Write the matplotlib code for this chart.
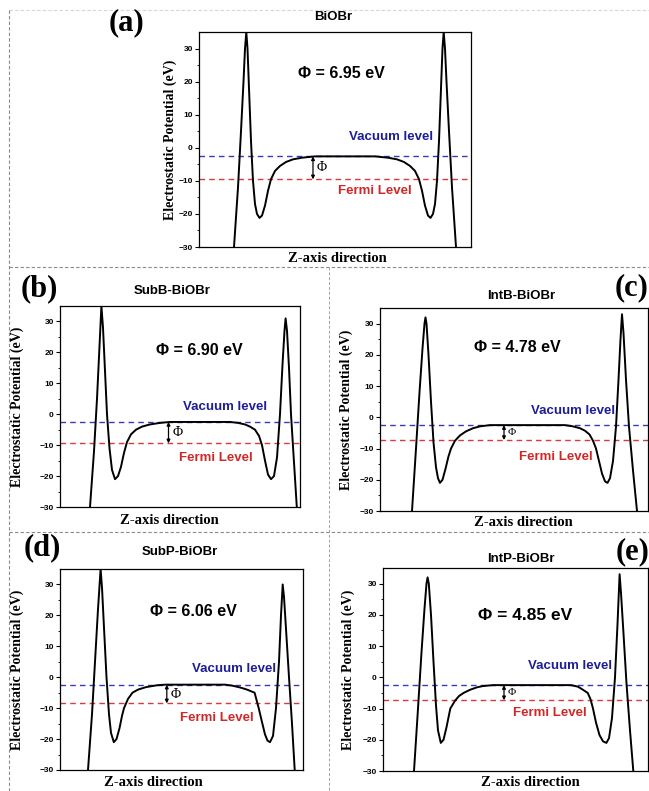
import numpy as np
import matplotlib.pyplot as plt
from matplotlib.lines import Line2D

W, H = 649, 791

panel_tags = ['(a)', '(b)', '(c)', '(d)', '(e)']
titles = ['BiOBr', 'SubB-BiOBr', 'IntB-BiOBr', 'SubP-BiOBr', 'IntP-BiOBr']
work_function = ['6.95', '6.90', '4.78', '6.06', '4.85']
vacuum_level = [-2.6, -2.5, -2.5, -2.4, -2.5]
fermi_level = [-9.55, -9.4, -7.28, -8.46, -7.35]

# potential profiles (z in arbitrary units along the slab)
z_a = [44, 48, 51, 53.5, 55, 56.3, 57.5, 59, 61, 63, 65, 67, 69.5, 72, 75, 78, 81, 85, 90, 96,
       103, 112, 125, 185, 198, 207, 214, 220, 225, 229, 232, 235, 238, 240.5, 243, 245, 247,
       249, 251, 252.5, 253.7, 255, 256.5, 259, 262, 266]
v_a = [-30, -12, 5, 20, 30, 35, 30, 18, 2, -10, -17, -20, -21.2, -20.5, -17.5, -13, -9.5, -7,
       -5.5, -4.3, -3.5, -3, -2.6, -2.6, -3, -3.5, -4.3, -5.5, -7, -9.5, -13, -17.5, -20.5,
       -21.2, -20, -17, -10, 2, 18, 30, 35, 30, 20, 5, -12, -30]

z_b = [30, 34, 37, 39.5, 41.4, 43, 45, 47, 49.5, 52, 55, 58, 61, 64, 67, 71, 76, 82, 90, 100,
       110, 170, 178, 185, 190, 195, 199, 202, 205, 208, 211, 214, 217, 220, 222.5, 224.5,
       225.6, 227, 229, 231, 233.5, 236.8]
v_b = [-30, -12, 5, 22, 35, 28, 14, 0, -11, -18, -21, -20, -17, -12.5, -9, -6.5, -5, -4, -3.3,
       -2.8, -2.5, -2.5, -2.8, -3.3, -4, -5, -7, -10, -15, -19.5, -21, -20, -14, 0, 16, 27,
       31, 27, 15, 0, -13, -30]

z_c = [32, 36, 39.5, 42.5, 44.5, 45.5, 46.5, 48.5, 51, 53.5, 56, 58, 60, 62.5, 65.5, 68.5, 71,
       75, 80, 86, 93, 100, 110, 185, 193, 200, 205, 209.5, 213, 216, 219, 222, 225, 227.5,
       230, 233, 236, 238.5, 240.5, 242, 243.5, 246, 249, 253, 257]
v_c = [-30, -10, 8, 22, 30, 32, 30, 20, 5, -8, -16, -19.5, -21, -20, -16.5, -12.5, -10, -7.5,
       -5.8, -4.5, -3.5, -2.9, -2.5, -2.5, -2.9, -3.5, -4.3, -5.5, -7.5, -10, -14, -18, -20.5,
       -21, -19.5, -14, -3, 12, 25, 33, 27, 12, -3, -17, -30]

z_d = [28, 32, 35, 38, 40.6, 42, 44, 46.5, 49, 51, 53.8, 56.5, 59.5, 62, 64, 68, 72.5, 78, 86,
       97, 105, 165, 172, 180, 187, 194.6, 198.7, 202, 205, 207.5, 210, 213, 216, 219, 221,
       222.7, 224, 226.5, 229, 232, 234.7]
v_d = [-30, -12, 5, 22, 35, 29, 16, 0, -12, -18, -21, -20, -16.5, -12.5, -10, -7, -5, -4, -3.2,
       -2.6, -2.4, -2.4, -2.7, -3.3, -4, -5, -10, -14.5, -18.5, -20.5, -21, -19, -10, 5, 20,
       30, 26, 13, 0, -15, -30]

z_e = [31, 35, 38.5, 41.5, 43.5, 44.6, 45.8, 48, 50.5, 53, 55, 57.8, 60.5, 63.5, 67.3, 72, 76,
       80.6, 87, 94, 100, 110, 188, 195, 200, 204.7, 207.5, 210, 213, 216.5, 220, 223.4, 226,
       229, 232, 234.5, 236.6, 238, 240.5, 243.5, 247, 250.3]
v_e = [-30, -10, 8, 22, 30, 32, 30, 20, 5, -9, -17, -21, -20, -16, -10, -7.5, -6, -5, -4, -3.2,
       -2.8, -2.5, -2.5, -3, -4, -5, -7, -10, -14.5, -18.5, -20.5, -21, -19.5, -13, 0, 17, 33,
       27, 14, -2, -17, -30]

profiles = [(z_a, v_a), (z_b, v_b), (z_c, v_c), (z_d, v_d), (z_e, v_e)]

# layout, in pixels of the 649x791 picture
boxes = [(199, 471, 32, 247), (60, 300, 306, 507), (380, 648, 308, 511),
         (60, 303, 569, 770), (383, 648, 568, 771)]
x_shift = [9, 0, 0, 0, 0]
tag_pos = [(127, 23), (39, 289), (632, 288), (42, 548), (633, 552)]
title_pos = [(333, 17), (172, 291), (521, 296), (180, 552), (521, 559)]
phi_pos = [(341, 74), (199, 351), (517, 348), (193, 611), (525, 616)]
vac_pos = [(391, 137), (225, 407), (573, 411), (234, 669), (570, 666)]
fermi_pos = [(375, 191), (216, 458), (556, 457), (217, 718), (550, 713)]
xlab_pos = [(337, 258), (169, 520), (523, 523), (153, 783), (530, 783)]
ylab_x = [170, 17, 346, 17, 348]
arrow_z = [123, 108.5, 124, 106.8, 121]
phi_small = [10, 10, 8, 10, 8]
phi_big = [11.5, 11.5, 11.5, 11.5, 12.5]

serif = ['Liberation Serif', 'DejaVu Serif']
sans = ['Liberation Sans', 'DejaVu Sans']

fig = plt.figure(figsize=(W / 100, H / 100), dpi=100)
fig.patch.set_facecolor('white')


def fx(x):
    return x / W


def fy(y):
    return 1 - y / H


# dashed frame between panels
frame = dict(color='#8a8a8a', lw=0.8, ls=(0, (3, 2)), transform=fig.transFigure)
fig.add_artist(Line2D([fx(9), fx(649)], [fy(10), fy(10)], alpha=0.35, **frame))
fig.add_artist(Line2D([fx(9), fx(9)], [fy(10), fy(791)], **frame))
fig.add_artist(Line2D([fx(9), fx(649)], [fy(267), fy(267)], **frame))
fig.add_artist(Line2D([fx(9), fx(649)], [fy(532), fy(532)], **frame))
fig.add_artist(Line2D([fx(329), fx(329)], [fy(267), fy(791)], color='#a0a0a0', lw=0.7,
                      ls=(0, (3, 2)), transform=fig.transFigure))

for i in range(5):
    l, r, t, b = boxes[i]
    ax = fig.add_axes([fx(l), fy(b), (r - l) / W, (b - t) / H])
    z, v = profiles[i]
    ax.plot(z, v, color='black', lw=1.4, zorder=3)
    ax.axhline(vacuum_level[i], color='#3a3ab8', lw=1.0, ls=(0, (4, 3)), zorder=2)
    ax.axhline(fermi_level[i], color='#d83a3a', lw=1.0, ls=(0, (4, 3)), zorder=2)
    ax.set_xlim(x_shift[i], x_shift[i] + r - l)
    ax.set_ylim(-30, 35)
    ax.set_xticks([])
    ax.set_yticks([-30, -20, -10, 0, 10, 20, 30])
    ax.set_yticks([-25, -15, -5, 5, 15, 25], minor=True)
    ax.tick_params(axis='y', which='major', direction='out', length=3, width=0.8,
                   labelsize=6, pad=1.5)
    ax.tick_params(axis='y', which='minor', direction='out', length=1.8, width=0.6)
    for lab in ax.get_yticklabels():
        lab.set_fontweight('bold')
        lab.set_family(sans)
    for s in ax.spines.values():
        s.set_linewidth(0.9)

    ax.annotate('', xy=(arrow_z[i], fermi_level[i]), xytext=(arrow_z[i], vacuum_level[i]),
                arrowprops=dict(arrowstyle='<|-|>', color='black', lw=0.9,
                                mutation_scale=5, shrinkA=0, shrinkB=0), zorder=4)
    ax.text(arrow_z[i] + 4, (vacuum_level[i] + fermi_level[i]) / 2, '\u03a6',
            fontsize=phi_small[i], family=serif, va='center', ha='left')

    fig.text(fx(tag_pos[i][0]), fy(tag_pos[i][1]), panel_tags[i], family=serif,
             fontweight='bold', fontsize=22, ha='center', va='center')
    fig.text(fx(title_pos[i][0]), fy(title_pos[i][1]), titles[i], family=sans,
             fontweight='bold', fontsize=9.5, ha='center', va='center')
    fig.text(fx(phi_pos[i][0]), fy(phi_pos[i][1]), '\u03a6 = ' + work_function[i] + ' eV',
             family=sans, fontweight='bold', fontsize=phi_big[i], ha='center', va='center')
    fig.text(fx(vac_pos[i][0]), fy(vac_pos[i][1]), 'Vacuum level', family=sans,
             fontweight='bold', fontsize=9.5, color='#1e1e96', ha='center', va='center')
    fig.text(fx(fermi_pos[i][0]), fy(fermi_pos[i][1]), 'Fermi Level', family=sans,
             fontweight='bold', fontsize=9.5, color='#d02828', ha='center', va='center')
    fig.text(fx(xlab_pos[i][0]), fy(xlab_pos[i][1]), 'Z-axis direction', family=serif,
             fontweight='bold', fontsize=10.5, ha='center', va='center')
    fig.text(fx(ylab_x[i]), fy((t + b) / 2), 'Electrostatic Potential (eV)', family=serif,
             fontweight='bold', fontsize=10, rotation=90, ha='center', va='center')

fig.savefig('out.png', dpi=100, facecolor='white')
